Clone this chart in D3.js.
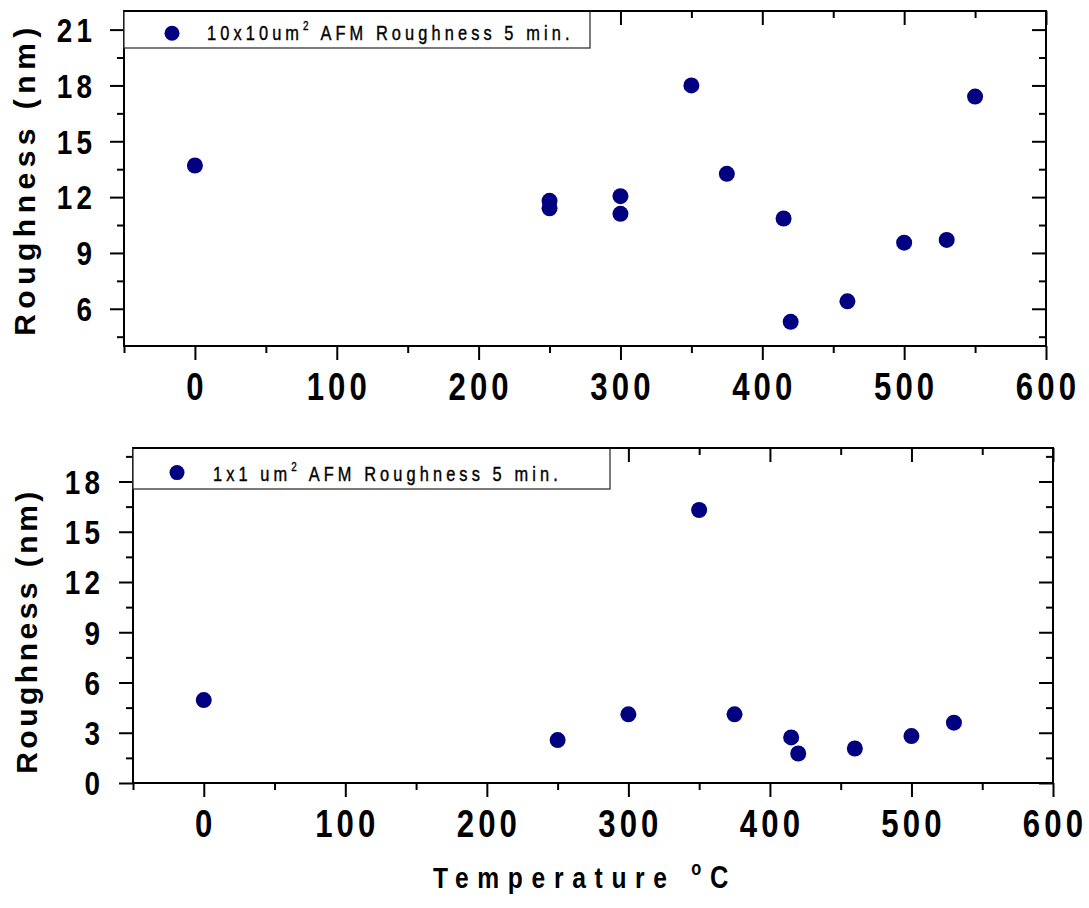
<!DOCTYPE html>
<html>
<head>
<meta charset="utf-8">
<script src="https://cdn.jsdelivr.net/npm/d3@7"></script>
<style>
  body { margin: 0; background: #fff; }
  svg { display: block; }
  text { font-family: "Liberation Sans", Arial, sans-serif; }
</style>
</head>
<body>
<svg id="chart" width="1089" height="908"></svg>
<script>
/*** DATA ***/

// 10x10 um^2 scans
const tempTop = [0, 250, 250, 300, 300, 350, 375, 415, 420, 460, 500, 530, 550];
const roughTop = [13.7, 11.8, 11.4, 12.05, 11.1, 18.0, 13.25, 10.85, 5.3, 6.4, 9.55, 9.7, 17.4];

// 1x1 um^2 scans
const tempBot = [0, 250, 300, 350, 375, 415, 420, 460, 500, 530];
const roughBot = [4.95, 2.56, 4.1, 16.3, 4.1, 2.72, 1.76, 2.06, 2.8, 3.6];

const xMajor = [0, 100, 200, 300, 400, 500, 600];
const xMinor = [-50, 50, 150, 250, 350, 450, 550];
const yMajorTop = [6, 9, 12, 15, 18, 21];
const yMinorTop = [4.5, 7.5, 10.5, 13.5, 16.5, 19.5];
const yMajorBot = [0, 3, 6, 9, 12, 15, 18];
const yMinorBot = [1.5, 4.5, 7.5, 10.5, 13.5, 16.5, 19.5];

const legendTop = "10x10um";
const legendBot = "1x1 um";
const legendTail = " AFM Roughness 5 min.";

/*** SETUP ***/

const markCol = "#000080";
const narrow = 0.82; // no Arial Narrow here, squeeze Liberation Sans instead
const svg = d3.select("#chart");
svg.append("rect").attr("width", 1089).attr("height", 908).attr("fill", "#fff");

function squeeze(px, py) {
  return "translate(" + px + "," + py + ") scale(" + narrow + ",1)";
}

function drawPanel(p) {
  var x = d3.scaleLinear().domain([-50, 600]).range([p.left, p.right]);
  var y = d3.scaleLinear().domain(p.yDom).range([p.bottom, p.top]);
  var g = svg.append("g");

  // major + minor ticks, outward on bottom/left, inward on top/right
  function ticks(axis, vals, size, tx, ty) {
    var a = g.append("g").attr("transform", "translate(" + tx + "," + ty + ")")
      .call(axis.tickValues(vals).tickSize(size).tickFormat(""));
    a.select(".domain").remove();
    a.selectAll("line").attr("stroke", "#000").attr("stroke-width", 2);
    return a;
  }
  ticks(d3.axisBottom(x), xMajor, 14, 0, p.bottom);
  ticks(d3.axisBottom(x), xMinor, 7, 0, p.bottom);
  ticks(d3.axisTop(x), xMajor, -14, 0, p.top);
  ticks(d3.axisTop(x), xMinor, -7, 0, p.top);
  ticks(d3.axisLeft(y), p.yMajor, 14, p.left, 0);
  ticks(d3.axisLeft(y), p.yMinor, 7, p.left, 0);
  ticks(d3.axisRight(y), p.yMajor, -14, p.right, 0);
  ticks(d3.axisRight(y), p.yMinor, -7, p.right, 0);

  // tick labels
  g.selectAll(".xl").data(xMajor).enter().append("text")
    .attr("transform", d => squeeze(x(d) + 2, p.bottom + 54))
    .attr("text-anchor", "middle")
    .attr("font-size", 38).attr("font-weight", "bold")
    .attr("letter-spacing", 5)
    .text(d => d);

  g.selectAll(".yl").data(p.yMajor).enter().append("text")
    .attr("transform", d => squeeze(p.left - p.labGap + 4, y(d)))
    .attr("dy", "0.36em")
    .attr("text-anchor", "end")
    .attr("font-size", 34).attr("font-weight", "bold")
    .attr("letter-spacing", 5)
    .text(d => d);

  // y title
  g.append("text")
    .attr("transform", "translate(" + p.titleX + "," + p.titleY + ") rotate(-90)")
    .attr("text-anchor", "middle")
    .attr("font-size", 30).attr("font-weight", "bold")
    .attr("letter-spacing", p.titleSpacing)
    .text("Roughness (nm)");

  // frame
  g.append("rect")
    .attr("x", p.left).attr("y", p.top)
    .attr("width", p.right - p.left).attr("height", p.bottom - p.top)
    .attr("fill", "none").attr("stroke", "#000").attr("stroke-width", 2);

  // legend
  var lg = g.append("g");
  lg.append("rect")
    .attr("x", p.left).attr("y", p.top)
    .attr("width", p.legW).attr("height", p.legH)
    .attr("fill", "#fff").attr("stroke", "#333").attr("stroke-width", 1.3);
  lg.append("line")
    .attr("x1", p.left).attr("x2", p.left + p.legW)
    .attr("y1", p.top).attr("y2", p.top)
    .attr("stroke", "#000").attr("stroke-width", 2);
  lg.append("circle")
    .attr("cx", p.left + p.legDotDx).attr("cy", p.top + p.legH * 0.6)
    .attr("r", 7.5).attr("fill", markCol);
  var lt = lg.append("text")
    .attr("transform", squeeze(p.left + p.legTextDx, p.legBase))
    .attr("font-size", 20).attr("letter-spacing", 5)
    .attr("fill", "#000").attr("stroke", "#000").attr("stroke-width", 0.4);
  lt.append("tspan").text(p.legend);
  lt.append("tspan").attr("font-size", 12).attr("dy", -10).text("2");
  lt.append("tspan").attr("font-size", 20).attr("dy", 10).text(p.legTail);

  // points
  g.selectAll("circle.pt").data(p.xs).enter().append("circle")
    .attr("class", "pt")
    .attr("cx", d => x(d))
    .attr("cy", (d, i) => y(p.ys[i]))
    .attr("r", 8)
    .attr("fill", markCol);
}

drawPanel({
  left: 124, right: 1046, top: 11, bottom: 346,
  yDom: [4, 22], yMajor: yMajorTop, yMinor: yMinorTop, labGap: 32,
  xs: tempTop, ys: roughTop,
  legend: legendTop, legTail: legendTail, legW: 466, legH: 37,
  legDotDx: 48, legTextDx: 83, legBase: 40,
  titleX: 35, titleY: 179, titleSpacing: 5.5
});

drawPanel({
  left: 133, right: 1053, top: 448, bottom: 783,
  yDom: [0, 20], yMajor: yMajorBot, yMinor: yMinorBot, labGap: 33,
  xs: tempBot, ys: roughBot,
  legend: legendBot, legTail: legendTail, legW: 477, legH: 41,
  legDotDx: 44, legTextDx: 80, legBase: 481,
  titleX: 37, titleY: 631, titleSpacing: 3.5
});

// shared x title
var xt = svg.append("text")
  .attr("transform", squeeze(433, 888))
  .attr("font-size", 30).attr("font-weight", "bold")
  .attr("letter-spacing", 10.6);
xt.append("tspan").text("Temperature ");
xt.append("tspan").attr("font-size", 20).attr("dy", -13).text("o");
xt.append("tspan").attr("font-size", 31).attr("dy", 13).text("C");
</script>
</body>
</html>
